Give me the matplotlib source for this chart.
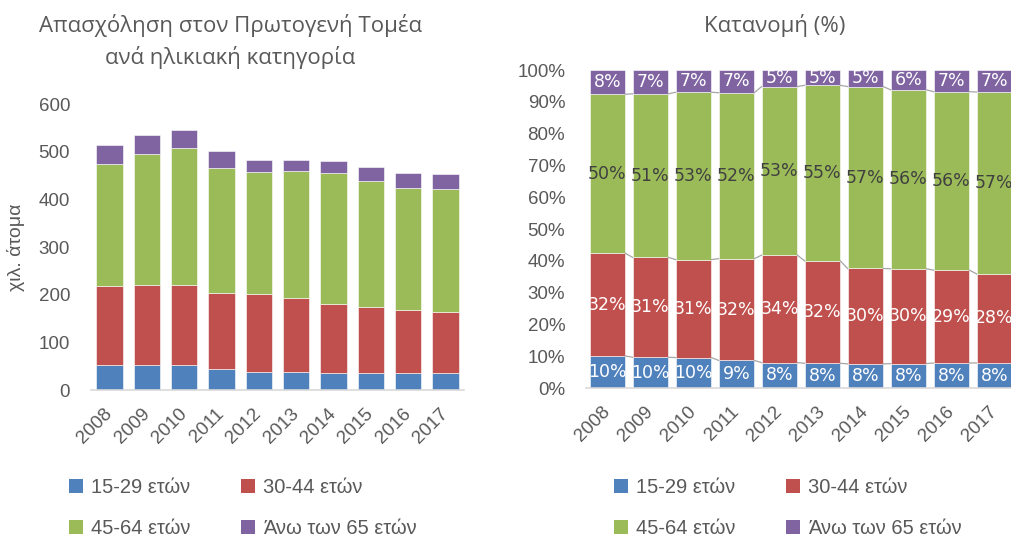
import numpy as np
import matplotlib
matplotlib.use('Agg')
from matplotlib import pyplot as plt
from matplotlib.patches import Patch

plt.rcParams['font.family'] = ['Liberation Sans', 'DejaVu Sans']

years = ['2008', '2009', '2010', '2011', '2012', '2013', '2014', '2015', '2016', '2017']
# employment in primary sector, thousands of persons, by age group
age_15_29 = [51.9, 51.8, 52.3, 43.6, 38.6, 37.6, 36.5, 36.0, 35.9, 35.9]
age_30_44 = [166.0, 167.7, 167.9, 160.3, 162.9, 155.2, 144.0, 139.2, 132.9, 127.1]
age_45_64 = [257.0, 274.7, 286.7, 261.5, 255.5, 266.1, 274.6, 262.8, 255.3, 259.7]
age_65_up = [39.1, 39.8, 38.1, 35.6, 25.0, 23.1, 24.9, 29.0, 30.9, 31.3]
group_names = ['15-29 ετών', '30-44 ετών', '45-64 ετών', 'Άνω των 65 ετών']

colors = ['#4F81BD', '#C0504D', '#9BBB59', '#8064A2']
label_colors = ['white', 'white', '#404040', 'white']
text_grey = '#595959'

groups = np.array([age_15_29, age_30_44, age_45_64, age_65_up])
shares = groups / groups.sum(axis=0) * 100
x = np.arange(len(years))

fig = plt.figure(figsize=(10.11, 5.39), dpi=100)

# absolute numbers
ax1 = fig.add_axes([0.090, 0.2764, 0.369, 0.5306])
bottom = np.zeros(len(years))
for vals, c in zip(groups, colors):
    ax1.bar(x, vals, 0.71, bottom=bottom, color=c, edgecolor='white', linewidth=0.4)
    bottom += vals
ax1.set_xlim(-0.5, 9.5)
ax1.set_ylim(0, 600)
ax1.set_yticks(range(0, 601, 100))
ax1.set_ylabel('χιλ. άτομα', fontsize=14, color=text_grey, labelpad=10)

# shares (%)
ax2 = fig.add_axes([0.5796, 0.280, 0.4253, 0.590])
w = 0.83
bottom = np.zeros(len(years))
for k, (vals, c) in enumerate(zip(shares, colors)):
    ax2.bar(x, vals, w, bottom=bottom, color=c, edgecolor='white', linewidth=0.4)
    for i, v in enumerate(vals):
        ax2.text(x[i], bottom[i] + v / 2, f'{v:.0f}%', ha='center', va='center',
                 fontsize=12.5, color=label_colors[k], family=['Liberation Sans Narrow', 'DejaVu Sans'])
    bottom += vals
    # series lines between neighbouring bars
    if k < 3:
        for i in range(len(years) - 1):
            ax2.plot([x[i] + w / 2, x[i + 1] - w / 2], [bottom[i], bottom[i + 1]],
                     color='#A6A6A6', linewidth=0.9)
ax2.set_xlim(-0.5, 9.5)
ax2.set_ylim(0, 100)
ax2.set_yticks(range(0, 101, 10))
ax2.set_yticklabels([f'{t}%' for t in range(0, 101, 10)])

for ax in (ax1, ax2):
    for s in ('top', 'right', 'left'):
        ax.spines[s].set_visible(False)
    ax.spines['bottom'].set_color('#D9D9D9')
    ax.spines['bottom'].set_linewidth(1.2)
    ax.tick_params(axis='both', length=0, labelsize=13.5, colors=text_grey)
    ax.tick_params(axis='y', pad=15)
    ax.set_xticks(x)
    ax.set_xticklabels(years, rotation=45, ha='right', va='center', rotation_mode='anchor')
    ax.tick_params(axis='x', pad=15)

title_font = ['Open Sans', 'DejaVu Sans']
fig.text(0.2275, 0.953, 'Απασχόληση στον Πρωτογενή Τομέα', ha='center', va='center',
         fontsize=16, color=text_grey, family=title_font)
fig.text(0.2275, 0.893, 'ανά ηλικιακή κατηγορία', ha='center', va='center',
         fontsize=16, color=text_grey, family=title_font)
fig.text(0.766, 0.953, 'Κατανομή (%)', ha='center', va='center',
         fontsize=16, color=text_grey, family=title_font)

# two rows: 15-29 / 30-44 on top, 45-64 / 65+ below
order = [0, 2, 1, 3]
handles = [Patch(facecolor=colors[i]) for i in order]
names = [group_names[i] for i in order]
for xpos in (0.068, 0.607):
    fig.legend(handles, names, loc='upper left', bbox_to_anchor=(xpos, 0.113),
               ncol=2, frameon=False, fontsize=14.5, labelcolor=text_grey,
               borderpad=0, borderaxespad=0,
               handlelength=0.7, handleheight=0.7, handletextpad=0.4,
               columnspacing=2.5, labelspacing=1.1)

fig.savefig('out.png', dpi=100)
